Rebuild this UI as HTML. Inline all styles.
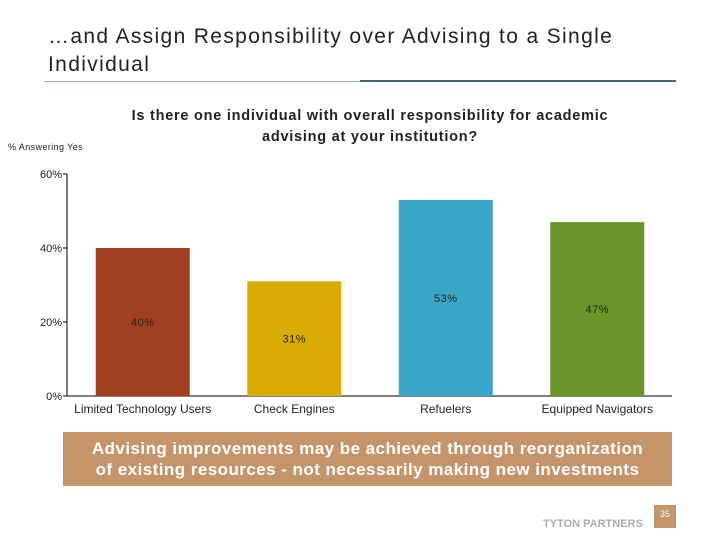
<!DOCTYPE html>
<html><head><meta charset="utf-8"><style>
body{margin:0;width:720px;height:540px;background:#fff;font-family:"Liberation Sans",sans-serif;position:relative;overflow:hidden}
.a{position:absolute}
</style></head><body>
<div class="a" style="left:48px;top:23px;font-size:21px;letter-spacing:1.35px;line-height:28px;color:#222">…and Assign Responsibility over Advising to a Single<br>Individual</div>
<div class="a" style="left:44px;top:81px;width:316px;height:1px;background:#9aa"></div>
<div class="a" style="left:360px;top:80px;width:316px;height:2px;background:#4a6272"></div>
<div class="a" style="left:100px;top:106px;width:540px;text-align:center;font-size:14.5px;letter-spacing:0.75px;font-weight:bold;line-height:21px;color:#222">Is there one individual with overall responsibility for academic<br>advising at your institution?</div>
<div class="a" style="left:8px;top:142px;font-size:9px;letter-spacing:0.4px;color:#222">% Answering Yes</div>
<svg class="a" style="left:0;top:0" width="720" height="540" id="chart"></svg>
<div class="a" style="left:63px;top:432px;width:609px;height:54px;background:#c4956b;color:#fff;font-weight:bold;font-size:17px;letter-spacing:0.45px;line-height:21px;text-align:center;padding-top:6px;box-sizing:border-box">Advising improvements may be achieved through reorganization<br>of existing resources - not necessarily making new investments</div>
<div class="a" style="left:543px;top:518px;font-size:11px;font-weight:bold;color:#a4b0b8">TYTON PARTNERS</div>
<div class="a" style="left:654px;top:505px;width:22px;height:23px;background:#c4956b;color:#fff;font-size:9px;text-align:center;line-height:18px">35</div>
<script>
const categories=["Limited Technology Users","Check Engines","Refuelers","Equipped Navigators"];
const values=[40,31,53,47];
const labels=["40%","31%","53%","47%"];
const colors=["#a04020","#d9ab00","#3aa6c8","#6a9628"];
const ticks=[0,20,40,60];
const svg=document.getElementById('chart');const NS='http://www.w3.org/2000/svg';
const x0=67,band=151.5,bw=94,y0=396,pxPer=3.7;
const y=v=>y0-v*pxPer;
function mk(t,a){const e=document.createElementNS(NS,t);for(const k in a)e.setAttribute(k,a[k]);svg.appendChild(e);return e;}
let ax=mk('line',{x1:x0,y1:y(60),x2:x0,y2:y0,stroke:'#000'});


let bx=mk('line',{x1:x0,y1:y0,x2:672,y2:y0,stroke:'#000'});


ticks.forEach(t=>{
 let l=mk('line',{x1:x0-4,y1:y(t),x2:x0,y2:y(t),stroke:'#000'});
 
 
 let tx=mk('text',{x:x0-5,y:y(t)+4,'text-anchor':'end','font-size':11,fill:'#222','font-family':'Liberation Sans'});
 tx.textContent=t+'%';
 
 
});
categories.forEach((c,i)=>{
 const cx=x0+band*(i+0.5);
 let r=mk('rect',{x:cx-bw/2,y:y(values[i]),width:bw,height:y0-y(values[i]),fill:colors[i]});
 
 
 let v=mk('text',{x:cx,y:(y(values[i])+y0)/2+4,'text-anchor':'middle','font-size':11,'letter-spacing':0.5,fill:'#222','font-family':'Liberation Sans'});
 v.textContent=labels[i];
 
 
 let cl=mk('text',{x:cx,y:413,'text-anchor':'middle','font-size':12,fill:'#222','font-family':'Liberation Sans'});
 cl.textContent=c;
 
 
});
</script>
</body></html>
